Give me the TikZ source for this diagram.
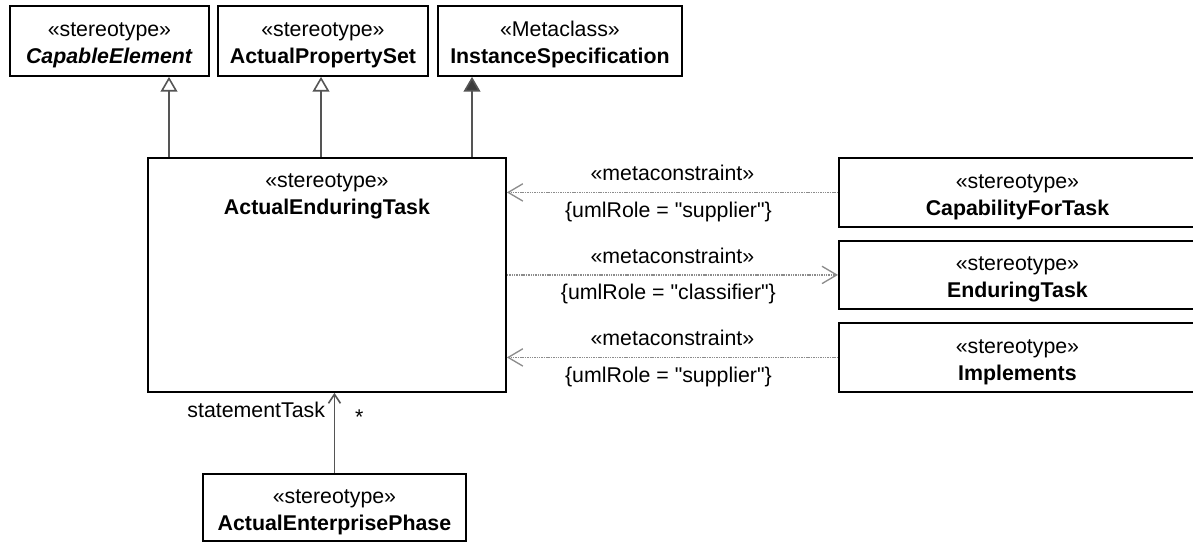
\documentclass[tikz,border=0pt]{standalone}
\usepackage{fontspec}
\setmainfont{Liberation Sans}[Ligatures=TeXOff]
\usetikzlibrary{arrows.meta, positioning, calc}
\definecolor{umlline}{HTML}{555555}
\definecolor{umldot}{HTML}{8C8C8C}
\definecolor{umlhead}{HTML}{3C3C3C}
\newcommand{\stereo}[1]{\rule{0pt}{17pt}«#1»}

\begin{document}
\begin{tikzpicture}[x=0.75pt, y=-0.75pt,
  every node/.style={font=\fontsize{16}{20.25}\selectfont, inner sep=0pt},
  classbox/.style={draw=black, line width=1.4pt, align=center, anchor=north west},
  gen/.style={draw=umlline, line width=1.2pt, -{Triangle[open, length=11pt, width=12.5pt]}},
  ext/.style={draw=umlline, line width=1.2pt, -{Triangle[length=11pt, width=12.5pt, fill=umlhead]}},
  dep/.style={draw=umldot, line width=1pt, dash pattern=on 0.8pt off 0.5pt, -{Straight Barb[length=11pt, width=13pt, line width=1pt]}},
  assoc/.style={draw=umlline, line width=1.2pt, -{Straight Barb[length=6.75pt, width=9pt]}}]
  \useasboundingbox (0,0) rectangle (1193,542);
  % top row
  \node[classbox, minimum width=149.25pt, minimum height=52.5pt] (cap) at (9,5)
    {\stereo{stereotype}\\\textbf{\textit{CapableElement}}};
  \node[classbox, minimum width=157.5pt, minimum height=52.5pt] (aps) at (217,5)
    {\stereo{stereotype}\\\textbf{ActualPropertySet}};
  \node[classbox, minimum width=183pt, minimum height=52.5pt] (ins) at (437,5)
    {\stereo{Metaclass}\\\textbf{InstanceSpecification}};
  % main class
  \node[classbox, minimum width=268.5pt, minimum height=175.5pt] (aet) at (147,157) {};
  \node[anchor=north, align=center] (aetname) at ($(aet.north)+(0,16)$)
    {«stereotype»\\\textbf{ActualEnduringTask}};
  % right column
  \node[classbox, minimum width=267.75pt, minimum height=51.75pt] (cft) at (838,157)
    {\stereo{stereotype}\\\textbf{CapabilityForTask}};
  \node[classbox, minimum width=267.75pt, minimum height=51pt] (et) at (838,240)
    {\stereo{stereotype}\\\textbf{EnduringTask}};
  \node[classbox, minimum width=267.75pt, minimum height=51.75pt] (imp) at (838,322)
    {\stereo{stereotype}\\\textbf{Implements}};
  % bottom
  \node[classbox, minimum width=197.25pt, minimum height=50.25pt] (aep) at (202,473)
    {\stereo{stereotype}\\\textbf{ActualEnterprisePhase}};
  % generalizations
  \path (aet.north west) ++(22,0) coordinate (g1) ++(152,0) coordinate (g2) ++(151,0) coordinate (g3);
  \draw[gen] (g1) -- (g1 |- cap.south);
  \draw[gen] (g2) -- (g2 |- aps.south);
  \draw[ext] (g3) -- (g3 |- ins.south);
  % metaconstraints
  \draw[dep] (cft) -- (cft -| aet.east)
    node[midway, anchor=south, yshift=8pt] {«metaconstraint»}
    node[midway, anchor=north, yshift=-6.5pt, xshift=-3pt] {\{umlRole = "supplier"\}};
  \draw[dep] (et -| aet.east) -- (et.west)
    node[midway, anchor=south, yshift=8pt] {«metaconstraint»}
    node[midway, anchor=north, yshift=-6.5pt, xshift=-3pt] {\{umlRole = "classifier"\}};
  \draw[dep] (imp) -- (imp -| aet.east)
    node[midway, anchor=south, yshift=8pt] {«metaconstraint»}
    node[midway, anchor=north, yshift=-6.5pt, xshift=-3pt] {\{umlRole = "supplier"\}};
  % association
  \draw[assoc] (aep.north) -- (aep.north |- aet.south)
    node[pos=1, anchor=north east, xshift=-6.5pt, yshift=-6.5pt] {statementTask}
    node[pos=1, anchor=north west, xshift=15pt, yshift=-12pt] {*};
\end{tikzpicture}
\end{document}
